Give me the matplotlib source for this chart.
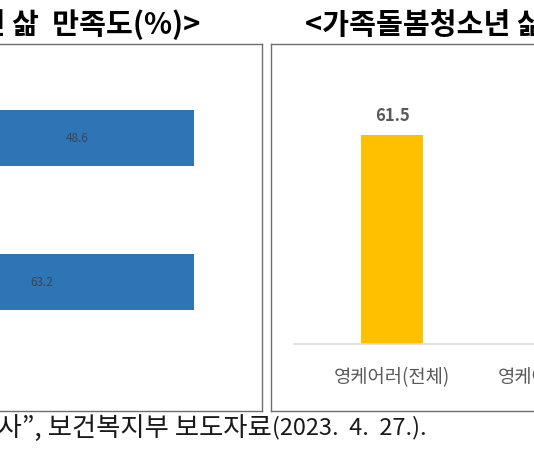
import matplotlib.pyplot as plt

plt.rcParams['font.family'] = ['Noto Sans CJK KR', 'DejaVu Sans']

W, H = 534, 462

# left panel: 100% stacked horizontal bars (only the last segment is visible)
left_groups = ['가족돌봄청년', '일반 청년']
left_other = [51.4, 36.8]
left_values = [48.6, 63.2]

# right panel: vertical bars
right_cats = ['영케어러(전체)', '영케어러(주돌봄자)']
right_values = [61.5, 55.9]

left_title = '<가족돌봄청년 삶  만족도(%)>'
right_title = '<가족돌봄청소년 삶 만족도(%)>'
caption_src = '자료: “2022 가족돌봄청년 실태조사”, 보건복지부 보도자료'
caption_date = '(2023.  4.  27.).'


def box(x0, y0, x1, y1):
    # pixel box (top-left origin) -> figure fraction rect
    return [x0 / W, 1 - y1 / H, (x1 - x0) / W, (y1 - y0) / H]


fig = plt.figure(figsize=(W / 100, H / 100), dpi=100)

# ---- left panel ----
axl = fig.add_axes(box(-330, 44, 262, 411))
ypos = range(len(left_groups))
axl.barh(ypos, left_other, height=0.39, color='#A5A5A5')
bars = axl.barh(ypos, left_values, left=left_other, height=0.39, color='#2E75B6')
axl.bar_label(bars, labels=[f'{v:.1f}' for v in left_values], label_type='center',
              fontsize=8.5, color='#3A4656')
# 0 -> -287px, 100 -> 194px
pxu = (194 + 287) / 100
axl.set_xlim((-330 + 287) / pxu, 100 + (262 - 194) / pxu)
axl.set_ylim(1 + 129 / 144, -94 / 144)
axl.set_xticks([])
axl.set_yticks([])
for s in axl.spines.values():
    s.set_color('#6F6F6F')
    s.set_linewidth(1)

# ---- right panel ----
frame = fig.add_axes(box(271, 44, 900, 411))
frame.set_xticks([])
frame.set_yticks([])
for s in frame.spines.values():
    s.set_color('#6F6F6F')
    s.set_linewidth(1)

axr = fig.add_axes(box(294, 60, 900, 344))
axr.patch.set_alpha(0)
xr = range(len(right_cats))
rb = axr.bar(xr, right_values, width=62 / 181, color='#FFC000')
axr.bar_label(rb, labels=[f'{v:.1f}' for v in right_values], padding=7,
              fontsize=12, fontweight='bold', color='#595959')
axr.set_xlim(-(392 - 294) / 181, (900 - 392) / 181)
axr.set_ylim(0, 61.5 * 284 / 209)
axr.set_xticks(list(xr))
axr.set_xticklabels(right_cats, fontsize=13.5, color='#595959')
axr.tick_params(axis='x', length=0, pad=17)
axr.set_yticks([])
for k in ['top', 'left', 'right']:
    axr.spines[k].set_visible(False)
axr.spines['bottom'].set_color('#D9D9D9')
axr.spines['bottom'].set_linewidth(1.2)

# ---- titles and caption ----
fig.text(200 / W, 1 - 25 / H, left_title, ha='right', va='center',
         fontsize=21, fontweight='bold', color='black')
fig.text(305 / W, 1 - 25 / H, right_title, ha='left', va='center',
         fontsize=21, fontweight='bold', color='black')
fig.text(272 / W, 1 - 428 / H, caption_src, ha='right', va='center',
         fontsize=19, color='#1a1a1a')
fig.text(272 / W, 1 - 428 / H, caption_date, ha='left', va='center',
         fontsize=17, color='#1a1a1a')

fig.savefig('out.png', dpi=100)
